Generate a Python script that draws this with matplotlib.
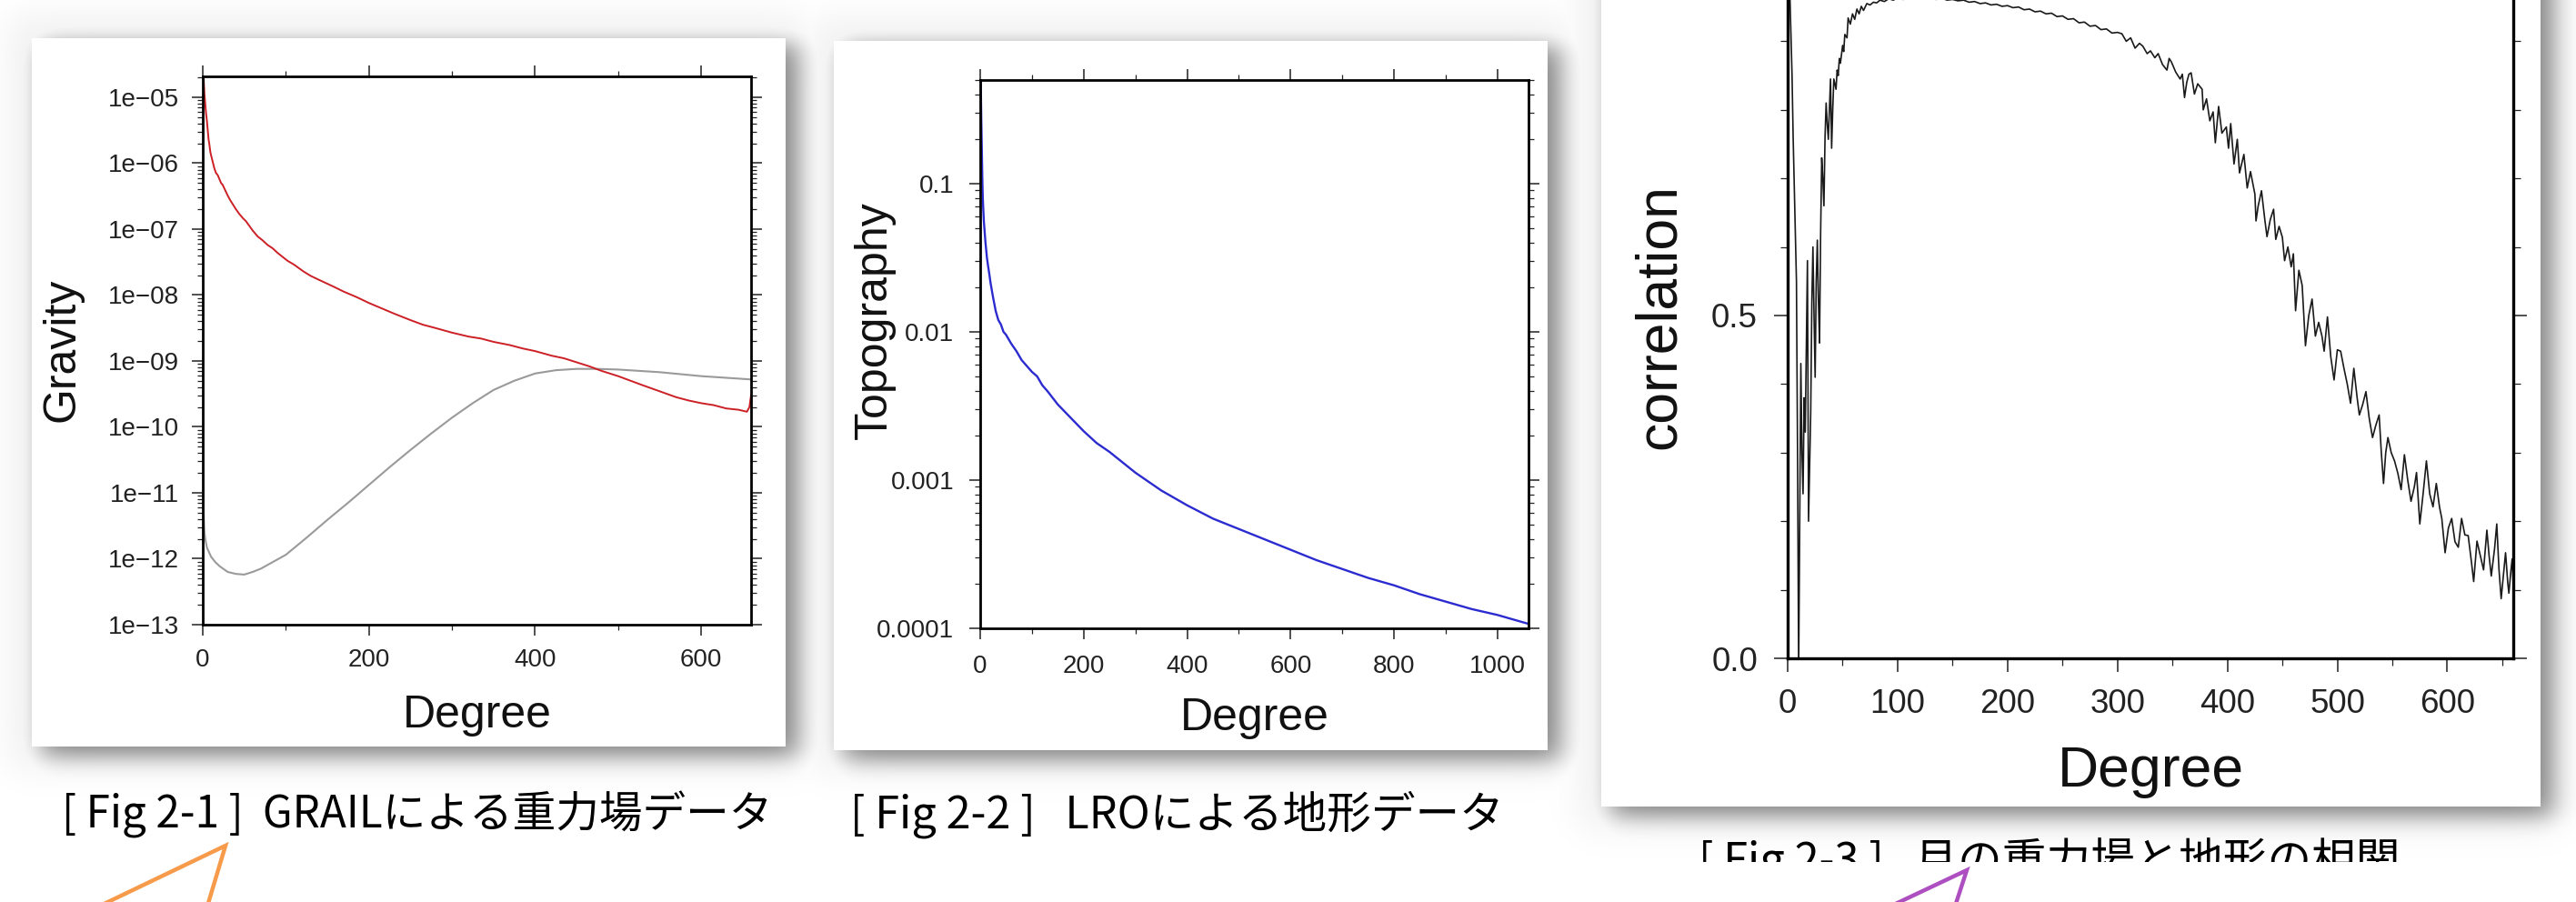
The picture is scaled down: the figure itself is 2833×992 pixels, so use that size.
import numpy as np
import matplotlib
matplotlib.use("Agg")
import matplotlib.pyplot as plt
from matplotlib.patches import Rectangle
from matplotlib.ticker import MultipleLocator, LogLocator, FuncFormatter, NullFormatter, FixedLocator

# ---------------- data ----------------
grav_deg = [1, 2, 3, 4, 5, 6, 7, 8, 9, 10, 12, 14, 16, 18, 20, 22, 24, 27, 30, 33, 36, 40, 44, 48,
            52, 56, 60, 66, 72, 78, 84, 90, 96, 102, 110, 121, 130, 140, 157, 170, 185, 200, 215,
            230, 250, 265, 280, 300, 320, 335, 350, 370, 385, 400, 420, 435, 450, 465, 480, 500,
            515, 530, 550, 570, 585, 600, 615, 630, 645, 655, 658, 660]
grav_log10 = [-4.70, -4.95, -5.10, -5.25, -5.36, -5.50, -5.64, -5.72, -5.82, -5.88, -5.98, -6.08,
              -6.15, -6.18, -6.24, -6.30, -6.33, -6.41, -6.49, -6.56, -6.62, -6.70, -6.77, -6.83,
              -6.88, -6.95, -7.02, -7.11, -7.17, -7.24, -7.29, -7.36, -7.42, -7.48, -7.54, -7.64,
              -7.71, -7.77, -7.87, -7.95, -8.03, -8.12, -8.20, -8.28, -8.38, -8.45, -8.50, -8.57,
              -8.63, -8.66, -8.71, -8.76, -8.81, -8.85, -8.92, -8.96, -9.02, -9.08, -9.15, -9.23,
              -9.30, -9.37, -9.46, -9.55, -9.60, -9.64, -9.67, -9.72, -9.74, -9.77, -9.70, -9.52]

err_deg = [0, 1, 2, 3, 5, 10, 15, 20, 30, 40, 50, 60, 70, 80, 90, 100, 125, 150, 175, 200, 225,
           250, 275, 300, 325, 350, 375, 400, 425, 450, 475, 500, 550, 600, 660]
err_log10 = [-10.15, -11.30, -11.60, -11.70, -11.83, -11.97, -12.05, -12.11, -12.20, -12.23,
             -12.24, -12.20, -12.15, -12.08, -12.01, -11.94, -11.68, -11.41, -11.15, -10.88,
             -10.61, -10.35, -10.10, -9.86, -9.64, -9.44, -9.30, -9.19, -9.14, -9.12, -9.12,
             -9.13, -9.17, -9.23, -9.28]

topo_deg = [1, 2, 3, 4, 5, 7, 10, 13, 15, 18, 20, 25, 30, 35, 40, 45, 50, 60, 70, 80, 90, 100,
            110, 120, 130, 150, 175, 200, 225, 250, 275, 300, 350, 400, 450, 500, 550, 600, 650,
            700, 750, 800, 850, 900, 950, 1000, 1030, 1060]
topo_log10 = [-0.30, -0.55, -0.75, -0.95, -1.10, -1.25, -1.39, -1.50, -1.55, -1.62, -1.67, -1.77,
              -1.86, -1.92, -1.95, -2.00, -2.02, -2.08, -2.13, -2.19, -2.23, -2.27, -2.30, -2.36,
              -2.40, -2.49, -2.58, -2.67, -2.75, -2.81, -2.88, -2.95, -3.07, -3.17, -3.26, -3.33,
              -3.40, -3.47, -3.54, -3.60, -3.66, -3.71, -3.77, -3.82, -3.87, -3.91, -3.94, -3.97]

corr_deg = [1, 2, 4, 5, 7, 8, 9, 10, 11, 12, 13, 14, 15, 16, 17, 18, 19, 20, 21, 22, 23, 24, 25,
            26, 27, 28, 29, 30, 31, 32, 33, 34, 35, 36, 37, 38, 39, 40, 41, 42, 44, 45, 46, 47,
            48, 50, 51, 52, 54, 55, 57, 59, 61, 63, 65, 67, 69, 72, 75, 78, 81, 84, 88, 92, 96,
            100, 105, 110, 115, 120, 125, 130, 135, 140, 145, 150, 155, 160, 165, 170, 175, 180,
            185, 190, 195, 200, 205, 210, 215, 220, 225, 230, 235, 240, 245, 250, 255, 260, 265,
            270, 275, 280, 285, 290, 295, 300, 304, 308, 312, 316, 320, 323, 327, 330, 334, 337,
            341, 345, 347, 349, 353, 357, 359, 361, 363, 365, 367, 370, 373, 377, 378, 381, 384,
            387, 389, 392, 395, 399, 401, 403, 406, 409, 411, 415, 418, 421, 425, 426, 428, 431,
            434, 436, 439, 442, 444, 447, 450, 452, 455, 458, 460, 462, 465, 468, 471, 474, 477,
            480, 483, 486, 488, 491, 494, 497, 500, 503, 506, 509, 512, 515, 518, 520, 523, 526,
            529, 532, 535, 538, 540, 542, 544, 546, 549, 552, 555, 558, 561, 564, 567, 570, 572,
            574, 575, 578, 581, 584, 587, 590, 593, 595, 598, 601, 604, 607, 610, 613, 616, 619,
            622, 624, 627, 630, 633, 636, 638, 640, 643, 645, 647, 649, 651, 653, 655, 656, 658,
            659, 660]
corr_val = [0.99, 0.97, 0.85, 0.76, 0.62, 0.55, 0.30, -0.02, 0.20, 0.43, 0.30, 0.24, 0.38, 0.33,
            0.45, 0.58, 0.20, 0.28, 0.36, 0.52, 0.60, 0.50, 0.41, 0.55, 0.61, 0.52, 0.46, 0.62,
            0.73, 0.70, 0.66, 0.76, 0.81, 0.78, 0.757, 0.80, 0.845, 0.744, 0.80, 0.845, 0.83,
            0.858, 0.85, 0.875, 0.868, 0.894, 0.885, 0.91, 0.905, 0.934, 0.925, 0.94, 0.932,
            0.947, 0.94, 0.951, 0.945, 0.955, 0.953, 0.957, 0.956, 0.96, 0.958, 0.962, 0.96,
            0.963, 0.961, 0.964, 0.962, 0.964, 0.962, 0.964, 0.961, 0.963, 0.96, 0.961, 0.959,
            0.96, 0.957, 0.958, 0.955, 0.956, 0.953, 0.954, 0.951, 0.952, 0.949, 0.95, 0.946,
            0.947, 0.943, 0.944, 0.94, 0.941, 0.936, 0.937, 0.932, 0.933, 0.927, 0.928, 0.922,
            0.923, 0.917, 0.918, 0.912, 0.913, 0.911, 0.90, 0.905, 0.89, 0.897, 0.893, 0.882,
            0.886, 0.876, 0.882, 0.866, 0.858, 0.875, 0.87, 0.855, 0.845, 0.852, 0.818, 0.84,
            0.852, 0.854, 0.823, 0.838, 0.83, 0.80, 0.816, 0.784, 0.797, 0.752, 0.805, 0.766,
            0.775, 0.744, 0.78, 0.721, 0.757, 0.708, 0.735, 0.686, 0.71, 0.677, 0.638, 0.66,
            0.682, 0.64, 0.615, 0.64, 0.655, 0.611, 0.63, 0.614, 0.58, 0.60, 0.571, 0.59, 0.507,
            0.566, 0.544, 0.456, 0.50, 0.524, 0.47, 0.49, 0.47, 0.448, 0.498, 0.44, 0.406, 0.45,
            0.448, 0.423, 0.40, 0.372, 0.423, 0.38, 0.355, 0.37, 0.389, 0.35, 0.322, 0.34, 0.355,
            0.30, 0.255, 0.30, 0.322, 0.30, 0.288, 0.27, 0.246, 0.297, 0.26, 0.229, 0.25, 0.271,
            0.22, 0.196, 0.24, 0.288, 0.24, 0.221, 0.255, 0.22, 0.204, 0.154, 0.19, 0.204, 0.17,
            0.162, 0.204, 0.18, 0.179, 0.14, 0.112, 0.171, 0.15, 0.129, 0.187, 0.15, 0.12, 0.16,
            0.196, 0.13, 0.087, 0.12, 0.154, 0.11, 0.095, 0.13, 0.145, 0.11]

captions = ["[ Fig 2-1 ]  GRAILによる重力場データ",
            "[ Fig 2-2 ]   LROによる地形データ",
            "[ Fig 2-3 ]   月の重力場と地形の相関"]
ylabels = ["Gravity", "Topography", "correlation"]
xlabel = "Degree"

# ---------------- layout (pixels, y downward) ----------------
W, H, DPI = 2833, 992, 100
cards = [(35, 42, 864, 821), (917, 45, 1702, 825), (1761, -60, 2794, 887)]

fig = plt.figure(figsize=(W / DPI, H / DPI), dpi=DPI)
fig.patch.set_facecolor("white")
bg = fig.add_axes([0, 0, 1, 1], zorder=0)
bg.set_xlim(0, W)
bg.set_ylim(H, 0)
bg.axis("off")

xs = np.arange(W) + 0.5
ys = np.arange(H) + 0.5


def soft(u, a, b, s):
    return 1 / (1 + np.exp(-(u - a) / s)) - 1 / (1 + np.exp(-(u - b) / s))


dark = np.zeros((H, W))
for (x0, y0, x1, y1) in cards:
    sh = 0.5 * np.outer(soft(ys, y0 + 6, y1 + 11, 8), soft(xs, x0 + 10, x1 + 14, 9))
    glow = 0.06 * np.outer(soft(ys, y0 - 25, y1 + 25, 12), soft(xs, x0 - 25, x1 + 25, 12))
    dark = np.maximum(dark, np.maximum(sh, glow))
rgba = np.zeros((H, W, 4))
rgba[..., 3] = dark
bg.imshow(rgba, extent=(0, W, H, 0), aspect="auto", interpolation="bilinear", zorder=0)
for (x0, y0, x1, y1) in cards:
    bg.add_patch(Rectangle((x0, y0), x1 - x0, y1 - y0, facecolor="white", edgecolor="none", zorder=1))

SANS = "Liberation Sans"
CJK = ["Noto Sans CJK JP", "DejaVu Sans"]


def add_ax(x0, y0, x1, y1):
    return fig.add_axes([x0 / W, 1 - y1 / H, (x1 - x0) / W, (y1 - y0) / H], zorder=2)


def style(ax, lw, lab, maj, mnr, pad):
    for sp in ax.spines.values():
        sp.set_linewidth(lw)
    ax.tick_params(which="both", direction="out", top=True, right=True,
                   labeltop=False, labelright=False, colors="#222222")
    ax.tick_params(which="major", length=maj, width=1.1, labelsize=lab, pad=pad)
    ax.tick_params(which="minor", length=mnr, width=0.9)
    for t in ax.get_xticklabels() + ax.get_yticklabels():
        t.set_fontfamily(SANS)


# Panel 1: gravity
ax1 = add_ax(223, 84, 826, 687)
ax1.set_yscale("log")
ax1.plot(err_deg, 10.0 ** np.array(err_log10), color="#9a9a9a", lw=1.5)
ax1.plot(grav_deg, 10.0 ** np.array(grav_log10), color="#cc2026", lw=1.4)
ax1.set_xlim(0, 660)
ax1.set_ylim(1e-13, 10 ** -4.683)
ax1.xaxis.set_major_locator(MultipleLocator(200))
ax1.xaxis.set_minor_locator(MultipleLocator(100))
ax1.yaxis.set_major_locator(LogLocator(base=10, numticks=30))
ax1.yaxis.set_minor_locator(LogLocator(base=10, subs=np.arange(2, 10), numticks=30))
ax1.yaxis.set_minor_formatter(NullFormatter())
ax1.yaxis.set_major_formatter(FuncFormatter(lambda v, p: "1e\u2212%02d" % int(round(-np.log10(v)))))
style(ax1, 2.0, 20, 8.6, 4.3, 10)

# Panel 2: topography
ax2 = add_ax(1078, 88, 1681, 691)
ax2.set_yscale("log")
ax2.plot(topo_deg, 10.0 ** np.array(topo_log10), color="#2b2bd0", lw=1.7)
ax2.set_xlim(0, 1060)
ax2.set_ylim(1e-4, 0.5)
ax2.xaxis.set_major_locator(MultipleLocator(200))
ax2.xaxis.set_minor_locator(MultipleLocator(100))
ax2.yaxis.set_major_locator(LogLocator(base=10, numticks=30))
ax2.yaxis.set_minor_locator(LogLocator(base=10, subs=np.arange(2, 10), numticks=30))
ax2.yaxis.set_minor_formatter(NullFormatter())
ax2.yaxis.set_major_formatter(FuncFormatter(lambda v, p: "%g" % v))
style(ax2, 2.0, 20, 8.6, 4.3, 12)

# Panel 3: correlation (its top edge lies above the picture, as in the screenshot)
ax3 = add_ax(1966, -30, 2764, 724)
ax3.plot(corr_deg, corr_val, color="#1a1a1a", lw=1.2)
ax3.set_xlim(0, 660)
ax3.set_ylim(0, 1)
ax3.xaxis.set_major_locator(MultipleLocator(100))
ax3.xaxis.set_minor_locator(MultipleLocator(50))
ax3.yaxis.set_major_locator(FixedLocator([0.0, 0.5]))
ax3.yaxis.set_minor_locator(MultipleLocator(0.1))
ax3.yaxis.set_major_formatter(FuncFormatter(lambda v, p: "%.1f" % v))
style(ax3, 2.4, 26.5, 10.8, 5.8, 13)

# axis titles
bg.text(524.5, 800, xlabel, ha="center", va="baseline", fontsize=36, family=SANS, color="#111111", zorder=3)
bg.text(1380, 803, xlabel, ha="center", va="baseline", fontsize=36, family=SANS, color="#111111", zorder=3)
bg.text(2365, 865, xlabel, ha="center", va="baseline", fontsize=45, family=SANS, color="#111111", zorder=3)
for (xb, yc, fs), lab in zip([(82, 385, 36), (975, 352, 36), (1842, 348, 45)], ylabels):
    bg.text(xb, yc, lab, rotation=90, rotation_mode="anchor", ha="center", va="baseline",
            fontsize=fs, family=SANS, color="#111111", zorder=3)

# captions
for (xc, yb, fs), cap in zip([(68, 910, 34.3), (935, 910, 35), (1868, 962, 35)], captions):
    bg.text(xc, yb, cap, ha="left", va="baseline", fontsize=fs, family=CJK, color="black", zorder=3)
bg.add_patch(Rectangle((1840, 948), 900, 60, facecolor="white", edgecolor="none", zorder=4))

# callout pointers
bg.plot([102, 248, 227], [1000, 930, 1000], color="#f79a4a", lw=3.2, zorder=5,
        solid_joinstyle="miter", clip_on=False)
bg.plot([2072, 2163, 2149], [1000, 957, 1000], color="#ad4fc0", lw=3.2, zorder=5,
        solid_joinstyle="miter", clip_on=False)

fig.savefig("out.png", dpi=DPI)
